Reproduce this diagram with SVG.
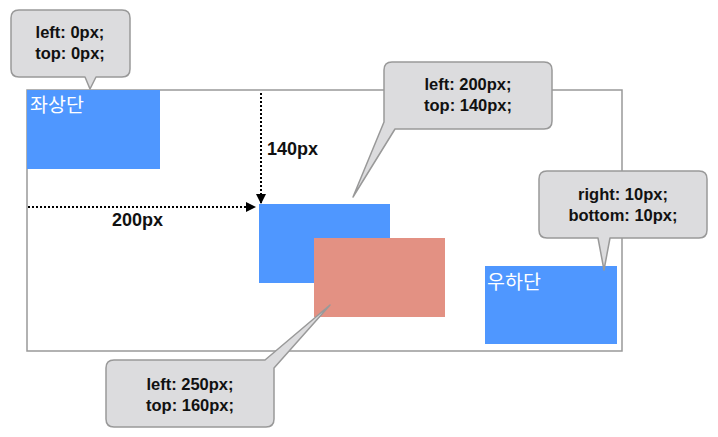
<svg xmlns="http://www.w3.org/2000/svg" width="718" height="437" viewBox="0 0 718 437">
<defs>
<style>
.box{fill:#4F97FF}
.red{fill:#E39183}
.kr{font-family:"Noto Sans CJK KR","Noto Sans",sans-serif;font-size:19.5px;fill:#fff}
.callout{fill:#DCDCDE;stroke:#999;stroke-width:1.5;stroke-linejoin:round}
.ct{font-family:"Liberation Sans",Arial,sans-serif;font-weight:bold;font-size:16.5px;fill:#111;text-anchor:middle}
.lbl{font-family:"Liberation Sans",Arial,sans-serif;font-weight:bold;font-size:18px;fill:#111}
.dot{stroke:#000;stroke-width:2;stroke-dasharray:2 2;fill:none}
</style>
<marker id="ah" viewBox="0 0 10 10" refX="10" refY="5" markerWidth="10" markerHeight="10" markerUnits="userSpaceOnUse" orient="auto">
<path d="M0,0 L10,5 L0,10 Z" fill="#000"/>
</marker>
</defs>
<rect width="718" height="437" fill="#fff"/>
<g id="container">
<rect x="27" y="90" width="595" height="261" fill="none" stroke="#999" stroke-width="1.5"/>
</g>
<g id="top-left">
<rect class="box" x="27" y="90" width="133" height="79"/>
<text class="kr" x="30" y="112">좌상단</text>
</g>
<g id="bottom-right">
<rect class="box" x="485" y="266" width="132" height="78"/>
<text class="kr" x="487" y="289">우하단</text>
</g>
<g id="box-200-140">
<rect class="box" x="259" y="204" width="131" height="79"/>
</g>
<g id="box-250-160">
<rect class="red" x="314" y="238" width="131" height="79"/>
</g>
<g id="connectors">
<line class="dot" x1="261" y1="93" x2="261" y2="204" marker-end="url(#ah)"/>
<line class="dot" x1="28" y1="207" x2="256" y2="207" marker-end="url(#ah)"/>
</g>
<g id="label-140">
<text class="lbl" x="267" y="155">140px</text>
</g>
<g id="label-200">
<text class="lbl" x="112" y="226">200px</text>
</g>
<g id="callout-1">
<path class="callout" d="M19,10 H122 Q130,10 130,18 V69 Q130,77 122,77 H96 L90,89 L85,77 H19 Q11,77 11,69 V18 Q11,10 19,10 Z"/>
<text class="ct" x="70" y="38">left: 0px;</text>
<text class="ct" x="70" y="59">top: 0px;</text>
</g>
<g id="callout-2">
<path class="callout" d="M392,62 H544 Q552,62 552,70 V121 Q552,129 544,129 H395 L353,197 L384,122 V70 Q384,62 392,62 Z"/>
<text class="ct" x="468" y="90">left: 200px;</text>
<text class="ct" x="468" y="111">top: 140px;</text>
</g>
<g id="callout-3">
<path class="callout" d="M547,171 H699 Q707,171 707,179 V230 Q707,238 699,238 H610 L604,270 L598,238 H547 Q539,238 539,230 V179 Q539,171 547,171 Z"/>
<text class="ct" x="623" y="200">right: 10px;</text>
<text class="ct" x="623" y="221">bottom: 10px;</text>
</g>
<g id="callout-4">
<path class="callout" d="M114,360 H265 L330,305 L274,368 V419 Q274,427 266,427 H114 Q106,427 106,419 V368 Q106,360 114,360 Z"/>
<text class="ct" x="190" y="390">left: 250px;</text>
<text class="ct" x="190" y="411">top: 160px;</text>
</g>
</svg>
